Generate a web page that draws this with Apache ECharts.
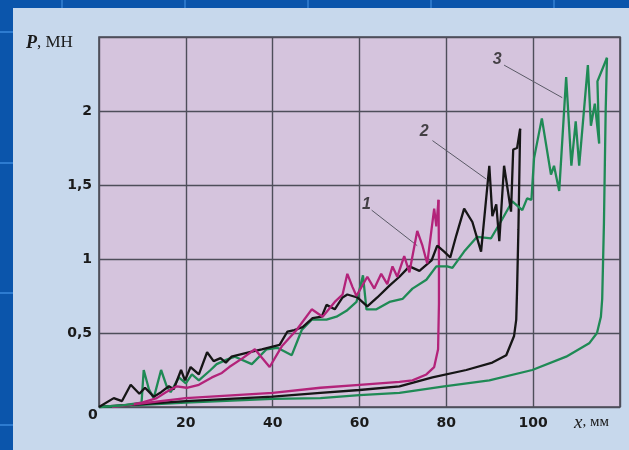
<!DOCTYPE html>
<html><head><meta charset="utf-8">
<script src="https://cdn.jsdelivr.net/npm/echarts@6/dist/echarts.min.js"></script>
<style>html,body{margin:0;padding:0;background:#0b55ab;}#c{width:629px;height:450px;}</style>
</head><body><div id="c"></div>
<script>
// x, mm ; P, MN
var xTicks = [20, 40, 60, 80, 100];
var yTicks = [0.5, 1, 1.5, 2];
var originLabel = '0';

var magentaUpper = [[8,0.02],[9.9,0.03],[13.3,0.06],[15.4,0.1],[17.9,0.14],[20.2,0.13],[23,0.15],[26,0.2],[28.3,0.23],[30,0.27],[33.1,0.33],[35.9,0.39],[39.3,0.27],[42.1,0.41],[45.5,0.52],[49,0.66],[51.5,0.61],[54.3,0.71],[56.1,0.76],[57.2,0.9],[58.4,0.81],[59.3,0.75],[61.8,0.88],[63.4,0.8],[65,0.9],[66.4,0.83],[67.6,0.95],[68.7,0.88],[70.3,1.02],[71.5,0.91],[73.3,1.19],[74.5,1.09],[75.6,0.97],[77.2,1.34],[77.7,1.22],[78.2,1.4]];
var magentaLower = [[3,0],[20,0.06],[40,0.095],[51,0.13],[60,0.15],[69.2,0.17],[72.2,0.18],[75.4,0.22],[77.2,0.27],[78.1,0.39],[78.3,0.7],[78.3,1.0],[78.2,1.4]];

var blackUpper = [[0,0],[3.4,0.06],[5.3,0.04],[7.3,0.15],[9.3,0.09],[10.6,0.13],[12.6,0.07],[14.3,0.1],[16.1,0.14],[17.2,0.12],[18.9,0.25],[19.8,0.18],[21.1,0.27],[23,0.22],[24.9,0.37],[26.4,0.31],[28,0.33],[29.2,0.3],[30.5,0.34],[34.7,0.37],[37.5,0.39],[41.6,0.42],[43.4,0.51],[45,0.52],[46.9,0.54],[49.2,0.6],[51.3,0.61],[52.4,0.69],[54.3,0.66],[56.1,0.74],[57.2,0.76],[59.5,0.74],[61.8,0.68],[64.1,0.74],[66.9,0.82],[69.2,0.88],[71.5,0.95],[73.8,0.92],[76.6,0.99],[77.9,1.09],[79.5,1.05],[80.9,1.01],[82.3,1.16],[84.1,1.34],[86,1.25],[88,1.05],[89.9,1.63],[90.6,1.29],[91.5,1.37],[92.2,1.12],[93.3,1.63],[94.9,1.32],[95.4,1.74],[96.3,1.75],[97,1.88]];
var blackLower = [[0,0],[20,0.04],[40,0.07],[51,0.095],[60,0.115],[69.2,0.14],[76.8,0.2],[84.6,0.25],[90.6,0.3],[93.8,0.35],[95.6,0.48],[96.1,0.59],[96.3,0.8],[96.6,1.2],[97,1.88]];

var greenUpper = [[0,0],[5,0.01],[9.8,0.03],[10.3,0.25],[11.5,0.12],[12.6,0.06],[14.3,0.25],[15.6,0.14],[16.5,0.1],[18.4,0.2],[20,0.16],[21.4,0.22],[23,0.18],[25.7,0.25],[27.1,0.29],[29.4,0.32],[31.3,0.34],[35.2,0.29],[38.6,0.39],[41.1,0.4],[44.4,0.35],[46.7,0.52],[49,0.59],[52.4,0.59],[54.7,0.61],[57,0.65],[59.3,0.71],[60.8,0.89],[61.6,0.66],[63.9,0.66],[66.9,0.71],[69.9,0.73],[72.2,0.8],[75.4,0.86],[77.7,0.95],[80.2,0.95],[81.4,0.94],[84.1,1.05],[87.1,1.15],[90.3,1.14],[92.9,1.27],[95.2,1.39],[97.5,1.33],[98.6,1.41],[99.6,1.4],[100.2,1.68],[102,1.95],[104.1,1.57],[104.8,1.63],[106,1.46],[107.6,2.23],[108.8,1.63],[109.8,1.93],[110.6,1.63],[112.6,2.31],[113.3,1.9],[114.2,2.05],[115.2,1.78],[114.8,2.2],[117,2.36]];
var greenLower = [[0,0],[20,0.03],[40,0.055],[51,0.06],[60,0.08],[69.2,0.095],[79.5,0.14],[89.9,0.18],[99.8,0.25],[107.6,0.34],[112.9,0.43],[114.7,0.5],[115.6,0.61],[115.9,0.73],[116.3,1.24],[116.7,2.0],[117,2.36]];

var curveLabels = ['1', '2', '3'];
var labelPos = [[61.6,1.37],[74.9,1.86],[91.7,2.35]];
var leader1 = [[62.8,1.33],[73.3,1.09]];
var leader2 = [[76.8,1.80],[89.2,1.54]];
var leader3 = [[93.3,2.31],[106.7,2.09]];

var cMag = '#b3237a', cBlk = '#161616', cGrn = '#1f8a55';
var tickFont = {color: '#1a1a1a', fontSize: 14, fontWeight: 'bold', fontFamily: 'DejaVu Sans'};

var chart = echarts.init(document.getElementById('c'), null, {renderer: 'canvas'});

function curve(data, color) {
  return {type: 'line', data: data, showSymbol: false, symbol: 'none', lineStyle: {color: color, width: 2.3}, z: 5, animation: false, silent: true};
}
function leader(data) {
  return {type: 'line', data: data, showSymbol: false, symbol: 'none', lineStyle: {color: '#5a5a66', width: 1}, z: 4, animation: false, silent: true};
}

var bgLines = [];
[32, 163, 293, 425].forEach(function (y) {
  bgLines.push({type: 'line', shape: {x1: 0, y1: y, x2: 13, y2: y}, style: {stroke: '#2d7bd0', lineWidth: 2}, z: -9});
});
[62, 185, 308, 431, 554].forEach(function (x) {
  bgLines.push({type: 'line', shape: {x1: x, y1: 0, x2: x, y2: 8}, style: {stroke: '#2a76c9', lineWidth: 2}, z: -9});
});

chart.setOption({
  animation: false,
  backgroundColor: '#0b55ab',
  graphic: [
    {type: 'rect', shape: {x: 13, y: 8, width: 620, height: 450}, style: {fill: '#c7d8ec'}, z: -10}
  ].concat(bgLines).concat([
    {type: 'text', left: 26, top: 34, z: 10, style: {
      text: '{p|P}{n|, МН}', rich: {
        p: {fontFamily: 'Liberation Serif', fontStyle: 'italic', fontWeight: 'bold', fontSize: 18, fill: '#1a1a1a'},
        n: {fontFamily: 'Liberation Serif', fontSize: 17, fill: '#1a1a1a'}
      }}},
    {type: 'text', left: 574, top: 413, z: 10, style: {
      text: '{p|x}{n|, мм}', rich: {
        p: {fontFamily: 'Liberation Serif', fontStyle: 'italic', fontSize: 19, fill: '#1a1a1a'},
        n: {fontFamily: 'Liberation Serif', fontSize: 15, fill: '#1a1a1a'}
      }}},
    {type: 'text', left: 88, top: 408, z: 10, style: {
      text: originLabel, fill: '#1a1a1a', font: 'bold 14px "DejaVu Sans"'}}
  ]),
  grid: {left: 99, right: 9, top: 37, bottom: 43, show: true, backgroundColor: '#d5c4dd', borderColor: '#4a4a55', borderWidth: 1.6},
  xAxis: {
    type: 'value', min: 0, max: 120, interval: 20,
    axisLine: {show: false}, axisTick: {show: false},
    splitLine: {show: true, lineStyle: {color: '#4e4e5a', width: 1.4}},
    axisLabel: Object.assign({margin: 9,
      formatter: function (v) { return xTicks.indexOf(v) >= 0 ? String(v) : ''; }}, tickFont)
  },
  yAxis: {
    type: 'value', min: 0, max: 2.5, interval: 0.5,
    axisLine: {show: false}, axisTick: {show: false},
    splitLine: {show: true, lineStyle: {color: '#4e4e5a', width: 1.4}},
    axisLabel: Object.assign({margin: 7,
      formatter: function (v) { return yTicks.indexOf(v) >= 0 ? String(v).replace('.', ',') : ''; }}, tickFont)
  },
  series: [
    leader(leader1), leader(leader2), leader(leader3),
    curve(greenLower, cGrn), curve(blackLower, cBlk), curve(magentaLower, cMag),
    curve(greenUpper, cGrn), curve(blackUpper, cBlk), curve(magentaUpper, cMag),
    {type: 'scatter', symbolSize: 0, z: 10, animation: false, silent: true,
     data: labelPos.map(function (p, i) { return {value: p, name: curveLabels[i]}; }),
     label: {show: true, position: 'inside', formatter: '{b}', color: '#1e1e1e', fontSize: 16, fontStyle: 'italic', fontWeight: 'bold', fontFamily: 'Liberation Sans'}}
  ]
});
</script></body></html>
